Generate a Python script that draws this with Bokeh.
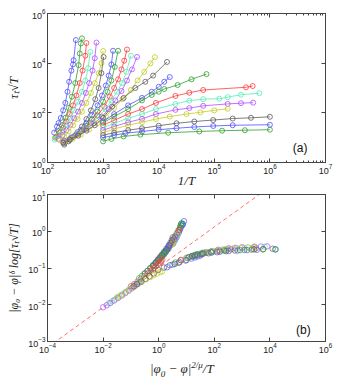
import numpy as np
from bokeh.plotting import figure
from bokeh.models import LogAxis, FixedTicker, Label, Range1d, CustomJSTickFormatter, Div
from bokeh.layouts import column
from bokeh.embed import file_html
from bokeh.resources import INLINE

colors = ["#4f4fff", "#2e9e2e", "#ff3a3a", "#55eeb0", "#b04cff", "#c4cc22", "#5c5c5c"]

# ---- panel (a): 1/T  vs  tau_t*sqrt(T) ----
# steep (diverging) series
invT_steep = [
    [132, 148, 158, 174, 191, 209, 229, 245, 269, 288, 295, 324],
    [138, 158, 182, 209, 240, 275, 316, 363, 380, 398, 417],
    [145, 166, 191, 219, 251, 288, 331, 380, 427, 479, 501],
    [135, 158, 186, 219, 257, 302, 355, 417, 479, 537, 589],
    [158, 186, 219, 257, 302, 355, 417, 490, 562, 646, 708, 759],
    [166, 200, 240, 288, 347, 417, 501, 603, 708, 832, 933, 1000],
    [200, 240, 288, 347, 417, 501, 603, 724, 832, 933, 1020],
    [200, 251, 316, 398, 501, 631, 794, 955, 1120, 1260, 1410, 1510],
    [200, 251, 316, 398, 501, 631, 794, 1000, 1200, 1410, 1620, 1860],
    [200, 263, 347, 457, 603, 794, 1050, 1320, 1580, 1860, 2140, 2400, 2690],
    [200, 263, 355, 479, 631, 832, 1100, 1410, 1780, 2190, 2630, 3160],
    [200, 269, 363, 501, 692, 955, 1260, 1660, 2140, 2690, 3310, 4070],
    [200, 282, 398, 562, 794, 1120, 1580, 2240, 3160, 4170, 5500, 7080, 8510],
    [191, 251, 355, 501, 708, 1000, 1450, 2340, 3800, 5750, 7940, 14100],
]
tau_steep = [
    [16, 28, 39, 62, 126, 251, 708, 1780, 5010, 8910, 13200, 85100],
    [10, 18, 32, 63, 158, 447, 1580, 8320, 24500, 61700, 100000],
    [11, 16, 25, 45, 89, 200, 501, 1580, 5010, 20000, 64600],
    [8.3, 12.6, 20, 35, 63, 126, 282, 708, 2000, 6310, 28200],
    [8.9, 12.6, 20, 33, 60, 112, 251, 631, 1580, 5010, 15800, 67600],
    [7.9, 11.2, 17.8, 31.6, 56, 112, 251, 631, 1580, 3980, 10000, 30900],
    [5.2, 7.1, 10.5, 16.6, 28.2, 56, 126, 355, 1000, 3980, 17800],
    [6.0, 8.3, 12.6, 20.9, 38, 79, 200, 501, 1260, 3160, 8910, 31600],
    [6.3, 8.5, 12, 18.2, 30.2, 56, 112, 282, 708, 2000, 7080, 31600],
    [7.1, 9.5, 14.1, 22.4, 39.8, 79, 178, 447, 1000, 2240, 5620, 12600, 35500],
    [7.9, 10.5, 15.1, 24, 39.8, 70.8, 141, 316, 708, 1580, 4470, 20000],
    [7.6, 10, 14.1, 22.4, 38, 70.8, 141, 316, 759, 2000, 5620, 17800],
    [6.6, 8.9, 13.2, 21.4, 38, 74, 158, 355, 832, 2000, 4470, 9770, 17400],
    [6.3, 8.3, 12, 19.1, 31.6, 63, 178, 398, 1000, 1780, 3160, 11200],
]
# saturating series
invT_flat = [
    [1000, 1580, 2820, 5010, 7500, 10000, 12600, 15800],
    [1000, 1580, 2820, 5010, 7500, 10000, 12600, 21900, 38900, 72400],
    [1000, 1580, 2820, 5010, 8910, 20000, 35500, 63100, 372000, 490000],
    [1000, 1580, 2820, 5010, 8910, 20000, 35500, 63100, 123000, 174000, 302000, 646000],
    [1000, 1580, 2820, 5010, 8910, 20000, 35500, 63100, 174000, 302000, 501000],
    [1000, 1580, 2820, 5010, 8910, 15800, 31600, 56200, 100000, 174000],
    [1000, 1580, 2820, 5010, 10000, 20900, 43700, 95500, 214000, 457000, 1000000],
    [1000, 1580, 2510, 5010, 10000, 20900, 43700, 95500, 214000, 1000000],
    [1000, 1410, 2340, 4680, 14800, 53700, 138000, 355000, 1000000],
]
tau_flat = [
    [44.7, 89, 200, 398, 708, 1120, 1780, 2750],
    [39.8, 70.8, 141, 316, 525, 708, 912, 1320, 2240, 3630],
    [31.6, 50.1, 89.1, 141, 251, 479, 646, 832, 1070, 1200],
    [25.1, 38, 60.3, 89.1, 141, 229, 309, 355, 372, 427, 537, 617],
    [20, 28.2, 41.7, 57.5, 89.1, 132, 155, 191, 229, 245, 257],
    [15.8, 22.4, 31.6, 41.7, 56.2, 70.8, 89.1, 105, 126, 145],
    [12.6, 15.8, 20, 24, 30.2, 38, 44.7, 51.3, 58.9, 63.1, 69.2],
    [10, 12.6, 15.1, 17.8, 20.9, 24, 26.9, 29.5, 31.6, 33.1],
    [7.1, 8.9, 11.2, 13.2, 15.8, 17.8, 19.1, 20, 20.9],
]

# ---- panel (b): per-series scaling factors |phi0-phi|^(2/mu) and |phi0-phi|^delta ----
factor_x = [0.0251, 0.0162, 0.01094, 0.00832, 0.00502, 0.00339, 0.00316, 0.00158,
            0.000998, 0.0005, 7.93e-5, 5.0e-5, 1.58e-4, 6.59e-4,
            0.002, 0.00398, 0.00631, 0.01, 0.0158, 0.0158, 0.0126, 0.0158, 0.0158]
factor_y = [0.381, 0.331, 0.2286, 0.189, 0.142, 0.1164, 0.16, 0.0908,
            0.0656, 0.0372, 0.0122, 0.00968, 0.0193, 0.0395,
            0.0635, 0.0883, 0.1107, 0.136, 0.1607, 0.174, 0.1815, 0.209, 0.246]
# power-law guide
guide_x = [1e-4, 1e4]
guide_y = [6.9e-4, 16.2]

all_invT = invT_steep + invT_flat
all_tau = tau_steep + tau_flat

AX = "#444444"
blank = CustomJSTickFormatter(code="return ''")


def style_axis(ax, ticks, minor, labels=True):
    ax.ticker = FixedTicker(ticks=ticks, minor_ticks=minor)
    ax.major_tick_in = 4
    ax.major_tick_out = 0
    ax.minor_tick_in = 2
    ax.minor_tick_out = 0
    ax.axis_line_color = AX
    ax.major_tick_line_color = AX
    ax.minor_tick_line_color = AX
    ax.major_label_text_font = "Liberation Sans"
    ax.major_label_text_color = "#222222"
    ax.major_label_text_font_size = "9px"
    ax.major_label_standoff = 2
    if not labels:
        ax.formatter = blank
        ax.major_label_standoff = 0


def style_label(ax, size="13px"):
    ax.axis_label_text_font = "Liberation Serif"
    ax.axis_label_text_font_style = "italic"
    ax.axis_label_text_font_size = size
    ax.axis_label_text_color = "#222222"
    ax.axis_label_standoff = 0


# ---------------- top panel ----------------
p1 = figure(width=350, height=190, x_axis_type="log", y_axis_type="log",
            x_range=Range1d(1e2, 1e7), y_range=Range1d(1, 1e6),
            output_backend="svg", toolbar_location=None,
            min_border_left=45, min_border_right=25, min_border_top=13, min_border_bottom=27)
p1.grid.visible = False
p1.outline_line_color = AX

xt1 = [1e2, 1e3, 1e4, 1e5, 1e6, 1e7]
xm1 = [m * 10.0 ** e for e in range(2, 7) for m in range(2, 10)]
yt1 = [1, 1e2, 1e4, 1e6]
style_axis(p1.xaxis[0], xt1, xm1)
style_axis(p1.yaxis[0], yt1, [])
p1.xaxis.axis_label = "1/T"
p1.yaxis.axis_label = "τₜ√T"
style_label(p1.xaxis[0])
style_label(p1.yaxis[0])
p1.xaxis.major_label_standoff = 1
p1.xaxis.axis_label_standoff = -4
p1.yaxis.axis_label_standoff = 8
top1 = LogAxis()
right1 = LogAxis()
p1.add_layout(top1, "above")
p1.add_layout(right1, "right")
style_axis(top1, xt1, xm1, labels=False)
style_axis(right1, yt1, [], labels=False)

for i, (xs, ys) in enumerate(zip(all_invT, all_tau)):
    c = colors[i % 7]
    p1.line(xs, ys, line_color=c, line_width=0.8)
    p1.scatter(xs, ys, marker="circle", size=5, fill_color=None, line_color=c, line_width=0.8)

p1.add_layout(Label(x=3.5e6, y=4, text="(a)", text_font="Liberation Sans",
                    text_font_size="12px", text_align="center", text_baseline="middle",
                    text_color="#111111"))

# ---------------- bottom panel ----------------
p2 = figure(width=350, height=171, x_axis_type="log", y_axis_type="log",
            x_range=Range1d(1e-4, 1e6), y_range=Range1d(1e-3, 1e1),
            output_backend="svg", toolbar_location=None,
            min_border_left=47, min_border_right=23, min_border_top=4, min_border_bottom=20)
p2.grid.visible = False
p2.outline_line_color = AX
xt2 = [1e-4, 1e-2, 1, 1e2, 1e4, 1e6]
yt2 = [1e-3, 1e-2, 1e-1, 1, 1e1]
style_axis(p2.xaxis[0], xt2, [])
style_axis(p2.yaxis[0], yt2, [])
p2.xaxis.major_label_standoff = 1
p2.yaxis.axis_label = "|φ₀ − φ|ᵟ log[τₜ√T]"
style_label(p2.yaxis[0], "12px")
p2.yaxis.axis_label_standoff = 4
top2 = LogAxis()
right2 = LogAxis()
p2.add_layout(top2, "above")
p2.add_layout(right2, "right")
style_axis(top2, xt2, [], labels=False)
style_axis(right2, yt2, [], labels=False)

p2.line(guide_x, guide_y, line_color="#ff7070", line_width=1, line_dash="4 3")

for i, (xs, ys) in enumerate(zip(all_invT, all_tau)):
    c = colors[i % 7]
    xb = factor_x[i] * np.array(xs, dtype=float)
    yb = factor_y[i] * np.log10(np.array(ys, dtype=float))
    p2.scatter(xb, yb, marker="circle", size=5.5, fill_color=None, line_color=c,
               line_width=0.8, line_alpha=0.85)

p2.add_layout(Label(x=1.6e5, y=2.1e-3, text="(b)", text_font="Liberation Sans",
                    text_font_size="12px", text_align="center", text_baseline="middle",
                    text_color="#111111"))

# x-axis label of panel (b) with sub/superscripts
xlabel_b = Div(text="<i>|φ<sub style='font-size:9px;line-height:0'>0</sub> − φ|"
                    "<sup style='font-size:9px;line-height:0'>2/μ</sup>/T</i>",
               width=350, height=20, margin=(0, 0, 0, 0),
               styles={"font-family": "Liberation Serif", "font-size": "13px",
                       "color": "#222222", "padding-left": "150px", "line-height": "16px"})

layout = column(p1, p2, xlabel_b)
open("out.html", "w").write(file_html(layout, INLINE))
